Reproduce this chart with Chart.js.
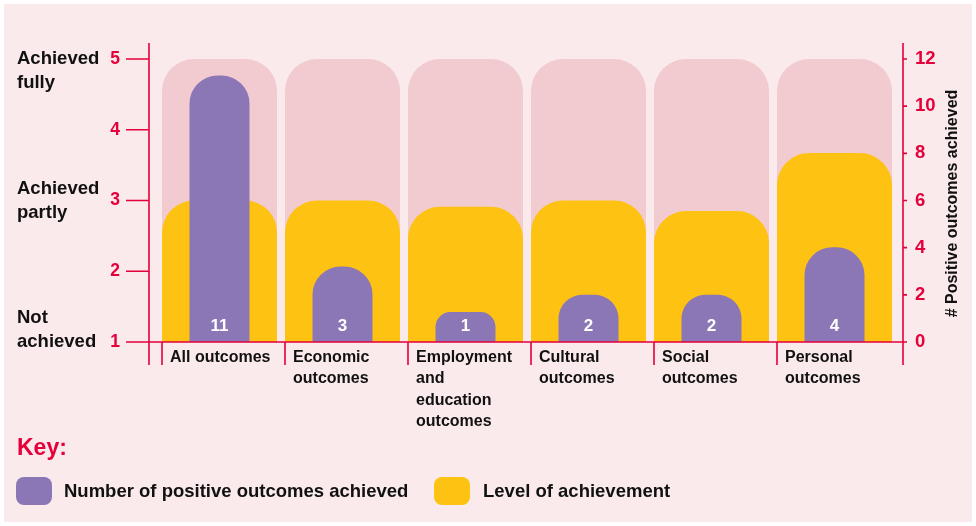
<!DOCTYPE html>
<html>
<head>
<meta charset="utf-8">
<script src="https://cdn.jsdelivr.net/npm/chart.js@4.4.0/dist/chart.umd.min.js"></script>
<style>
  html, body { margin:0; padding:0; background:#ffffff; }
  #bg { position:absolute; left:4px; top:4px; width:968px; height:518px; background:#faeaec; }
  #wrap { position:absolute; left:0; top:0; width:976px; height:526px; }
  .t { position:absolute; font-family:"Liberation Sans", Arial, sans-serif; font-weight:bold; color:#111; white-space:nowrap; }
  #key { left:17px; top:432px; font-size:23px; color:#e4003b; line-height:30px; }
  .sw { position:absolute; width:36px; height:28px; border-radius:8px; top:477px; }
  .lt { top:480px; font-size:18.5px; line-height:22px; }
</style>
</head>
<body>
<div id="bg"></div>
<div id="wrap"><canvas id="c" width="976" height="526"></canvas></div>
<div class="t" id="key">Key:</div>
<div class="sw" style="left:16px; background:#8b76b6;"></div>
<div class="t lt" style="left:64px;">Number of positive outcomes achieved</div>
<div class="sw" style="left:434px; background:#fec213;"></div>
<div class="t lt" style="left:483px;">Level of achievement</div>
<script>
const categories = [
  ["All outcomes"],
  ["Economic", "outcomes"],
  ["Employment", "and", "education", "outcomes"],
  ["Cultural", "outcomes"],
  ["Social", "outcomes"],
  ["Personal", "outcomes"]
];
const levelMax = [5, 5, 5, 5, 5, 5];
const levelOfAchievement = [3.0, 3.0, 2.91, 3.0, 2.85, 3.67];
const positiveOutcomesBar = [11.3, 3.2, 1.27, 2.0, 2.0, 4.02];
const positiveOutcomesLabel = ["11", "3", "1", "2", "2", "4"];
const levelTicks = [1, 2, 3, 4, 5];
const countTicks = [0, 2, 4, 6, 8, 10, 12];
const levelNames = [
  { value: 5, lines: ["Achieved", "fully"], anchor: "top" },
  { value: 3, lines: ["Achieved", "partly"], anchor: "middle" },
  { value: 1, lines: ["Not", "achieved"], anchor: "bottom" }
];
const rightTitle = "# Positive outcomes achieved";

const RED = "#e4003b";
const FONT = "'Liberation Sans', Arial, sans-serif";

const axesPlugin = {
  id: "axesPlugin",
  afterDatasetsDraw(chart) {
    const ctx = chart.ctx;
    const a = chart.chartArea;
    const x = chart.scales.x, y = chart.scales.y, y2 = chart.scales.y2;
    const base = y.getPixelForValue(1);
    const topY = a.top - 16, botY = base + 23;
    const leftX = a.left - 9, rightX = a.right + 7;
    ctx.save();
    ctx.strokeStyle = RED;
    ctx.lineWidth = 1.6;
    ctx.beginPath();
    // left axis
    ctx.moveTo(leftX, topY); ctx.lineTo(leftX, botY);
    levelTicks.forEach(v => { const p = y.getPixelForValue(v); ctx.moveTo(leftX - 23, p); ctx.lineTo(leftX, p); });
    // baseline
    ctx.moveTo(leftX - 23, base); ctx.lineTo(rightX, base);
    // right axis
    ctx.moveTo(rightX, topY); ctx.lineTo(rightX, botY);
    countTicks.forEach(v => { const p = y2.getPixelForValue(v); ctx.moveTo(rightX, p); ctx.lineTo(rightX + 4, p); });
    // dividers
    const meta = chart.getDatasetMeta(1);
    meta.data.forEach(bar => {
      const dx = bar.x - bar.width / 2;
      ctx.moveTo(dx, base); ctx.lineTo(dx, botY);
    });
    ctx.stroke();

    // count labels
    const pm = chart.getDatasetMeta(0);
    ctx.fillStyle = "#ffffff";
    ctx.font = "bold 17px " + FONT;
    ctx.textAlign = "center";
    ctx.textBaseline = "middle";
    pm.data.forEach((bar, i) => {
      ctx.fillText(positiveOutcomesLabel[i], bar.x, base - 16);
    });

    // level names on the left
    ctx.fillStyle = "#111111";
    ctx.font = "bold 18.5px " + FONT;
    ctx.textAlign = "left";
    const lh = 24;
    levelNames.forEach(n => {
      const p = y.getPixelForValue(n.value);
      let start = p;
      if (n.anchor === "middle") start = p - lh * (n.lines.length - 1) / 2;
      if (n.anchor === "bottom") start = p - lh * (n.lines.length - 1);
      n.lines.forEach((l, i) => ctx.fillText(l, 17, start + i * lh));
    });

    // right title (reading bottom to top)
    ctx.save();
    ctx.translate(953, (a.top + base) / 2 + 3);
    ctx.rotate(-Math.PI / 2);
    ctx.font = "bold 16px " + FONT;
    ctx.textAlign = "center";
    ctx.fillText(rightTitle, 0, 0);
    ctx.restore();
    ctx.restore();
  }
};

new Chart(document.getElementById("c"), {
  type: "bar",
  data: {
    labels: categories,
    datasets: [
      {
        label: "Number of positive outcomes achieved",
        data: positiveOutcomesBar,
        yAxisID: "y2",
        backgroundColor: "#8b76b6",
        borderRadius: 28,
        borderSkipped: "start",
        barPercentage: 60 / 123,
        categoryPercentage: 1,
        grouped: false,
        order: 1
      },
      {
        label: "Level of achievement",
        data: levelOfAchievement,
        yAxisID: "y",
        backgroundColor: "#fec213",
        borderRadius: 32,
        borderSkipped: "start",
        barPercentage: 115 / 123,
        categoryPercentage: 1,
        grouped: false,
        order: 2
      },
      {
        label: "Maximum",
        data: levelMax,
        yAxisID: "y",
        backgroundColor: "#f2cbd1",
        borderRadius: 32,
        borderSkipped: "start",
        barPercentage: 115 / 123,
        categoryPercentage: 1,
        grouped: false,
        order: 3
      }
    ]
  },
  options: {
    responsive: false,
    animation: false,
    events: [],
    layout: { padding: { top: 59, left: 0, right: 0, bottom: 0 } },
    plugins: { legend: { display: false }, tooltip: { enabled: false } },
    scales: {
      x: {
        position: "bottom",
        grid: { display: false, drawTicks: false },
        border: { display: false },
        ticks: {
          color: "#111111",
          font: { family: FONT, size: 16, weight: "bold", lineHeight: 1.33 },
          align: "start",
          labelOffset: -49.5,
          padding: 5,
          maxRotation: 0,
          autoSkip: false
        },
        afterFit(s) { s.height = 184; }
      },
      y: {
        position: "left",
        min: 1, max: 5,
        grid: { display: false, drawTicks: false },
        border: { display: false },
        ticks: {
          stepSize: 1,
          color: RED,
          font: { family: FONT, size: 17.5, weight: "bold" },
          padding: 38
        },
        afterFit(s) { s.width = 158; }
      },
      y2: {
        position: "right",
        min: 0, max: 12,
        grid: { display: false, drawTicks: false },
        border: { display: false },
        ticks: {
          stepSize: 2,
          color: RED,
          font: { family: FONT, size: 18.5, weight: "bold" },
          padding: 19
        },
        afterFit(s) { s.width = 80; }
      }
    }
  },
  plugins: [axesPlugin]
});
</script>
</body>
</html>
